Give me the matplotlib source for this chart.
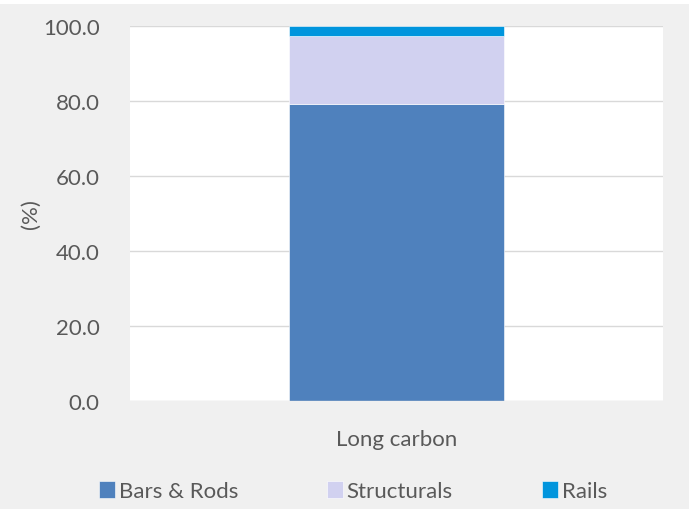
import matplotlib
matplotlib.use("Agg")
import matplotlib.pyplot as plt
from matplotlib.patches import Rectangle

categories = ["Long carbon"]
series_names = ["Bars & Rods", "Structurals", "Rails"]
bars_rods = [79.3]
structurals = [18.0]
rails = [2.7]
y_ticks = [0, 20, 40, 60, 80, 100]

colors = ["#4f81bd", "#d1d1f0", "#0095dd"]
text_color = "#595959"
bg = "#f0f0f0"
fs = 16

plt.rcParams["font.family"] = ["Lato", "DejaVu Sans"]

fig = plt.figure(figsize=(6.89, 5.10), dpi=100, facecolor=bg)
# white strip along the top edge
fig.patches.append(Rectangle((0, 0.99), 1, 0.01, transform=fig.transFigure,
                             facecolor="white", edgecolor="none", zorder=0))

ax = fig.add_axes([0.1887, 0.2118, 0.7733, 0.7352])
ax.set_facecolor("white")

x = list(range(len(categories)))
bottom = [0.0] * len(categories)
for name, vals, c in zip(series_names, [bars_rods, structurals, rails], colors):
    ax.bar(x, vals, bottom=bottom, width=0.405, color=c, label=name,
           edgecolor="white", linewidth=0.4, zorder=2)
    bottom = [b + v for b, v in zip(bottom, vals)]

ax.set_xlim(-0.5, 0.5)
ax.set_ylim(0, 100)
ax.set_yticks(y_ticks)
ax.set_yticklabels([f"{v:.1f}" for v in y_ticks])
ax.set_xticks(x)
ax.set_xticklabels(categories)
for v in y_ticks:
    ax.axhline(v, color="#d9d9d9", linewidth=1.0, zorder=1 if v else 3)

for s in ax.spines.values():
    s.set_visible(False)
ax.tick_params(axis="both", length=0, colors=text_color, labelsize=fs)
ax.tick_params(axis="y", pad=22)
ax.tick_params(axis="x", pad=20)
ax.set_ylabel("(%)", color=text_color, fontsize=fs, labelpad=1)

leg = fig.legend(loc="center", bbox_to_anchor=(0.512, 0.035), ncol=3,
                 frameon=False, fontsize=fs, handlelength=0.75,
                 handleheight=0.75, handletextpad=0.15, columnspacing=4.0)
for t in leg.get_texts():
    t.set_color(text_color)

fig.savefig("out.png", dpi=100, facecolor=bg)
